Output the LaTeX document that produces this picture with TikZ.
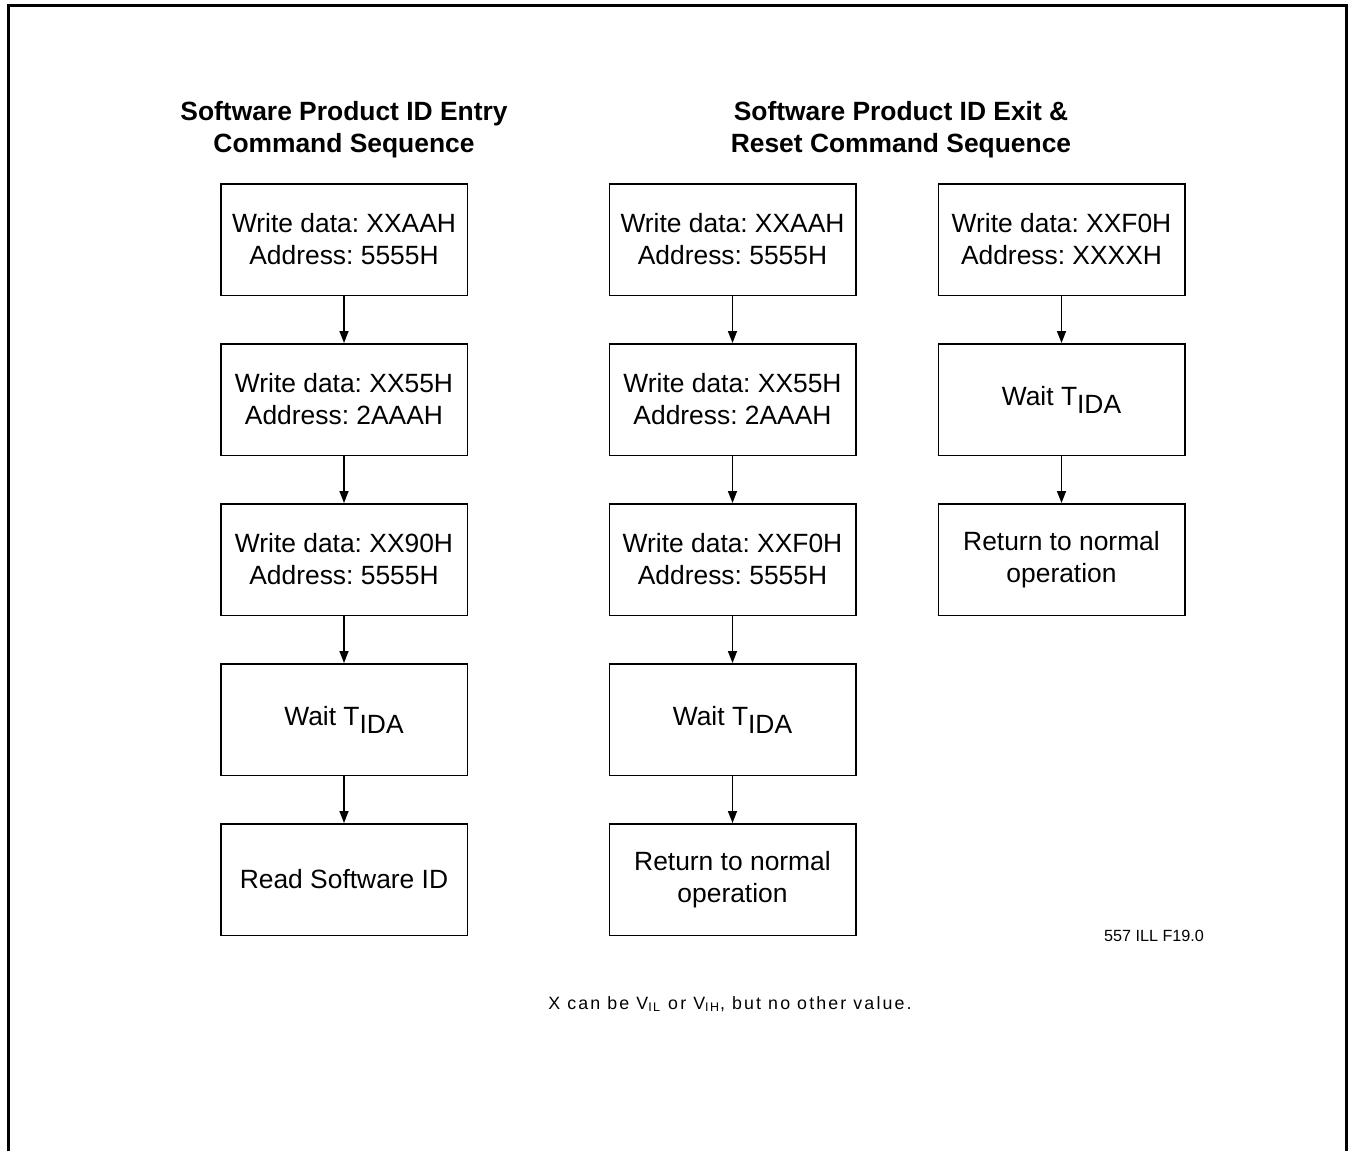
\documentclass[tikz,border=0pt]{standalone}
\usepackage{fontspec}
\setmainfont{Liberation Sans}
\usetikzlibrary{arrows.meta, positioning, calc}

\newcommand{\tida}{T\raisebox{-4pt}{IDA}}
\frenchspacing

\begin{document}
\begin{tikzpicture}[x=0.5pt, y=-0.5pt, >={Triangle[length=6pt, width=4.5pt]}, node distance=23.5pt,
  box/.style={draw, line width=0.75pt, align=center, minimum width=123.25pt, minimum height=55.75pt, inner sep=0pt, font=\fontsize{13.2}{16}\selectfont},
  heading/.style={align=center, inner sep=0pt, font=\fontsize{13.2}{16}\selectfont\bfseries},
  flow/.style={->, line width=0.75pt}]
\useasboundingbox (0,0) rectangle (1353,1151);
\draw[line width=1.5pt] (8.5,1151) -- (8.5,5) -- (1346,5) -- (1346,1151);

% entry sequence
\node[box] (a1) at (344,239.5) {Write data: XXAAH\\ Address: 5555H};
\node[box, below=of a1] (a2) {Write data: XX55H\\ Address: 2AAAH};
\node[box, below=of a2] (a3) {Write data: XX90H\\ Address: 5555H};
\node[box, below=of a3] (a4) {Wait \tida};
\node[box, below=of a4] (a5) {Read Software ID};

% exit & reset sequence
\node[box] (b1) at (732.5,239.5) {Write data: XXAAH\\ Address: 5555H};
\node[box, below=of b1] (b2) {Write data: XX55H\\ Address: 2AAAH};
\node[box, below=of b2] (b3) {Write data: XXF0H\\ Address: 5555H};
\node[box, below=of b3] (b4) {Wait \tida};
\node[box, below=of b4] (b5) {Return to normal\\ operation};

\node[box] (c1) at (1061.5,239.5) {Write data: XXF0H\\ Address: XXXXH};
\node[box, below=of c1] (c2) {Wait \tida};
\node[box, below=of c2] (c3) {Return to normal\\ operation};

\foreach \u/\v in {a1/a2, a2/a3, a3/a4, a4/a5, b1/b2, b2/b3, b3/b4, b4/b5, c1/c2, c2/c3}
  \draw[flow] (\u) -- (\v);

% headings
\coordinate (mid) at ($(b1.north)!.5!(c1.north)$);
\node[heading, above=12.5pt of a1] (ta) {Software Product ID Entry\\ Command Sequence};
\node[heading, above=12.5pt of mid, xshift=2pt] (tb) {Software Product ID Exit \&\\ Reset Command Sequence};

\node[font=\fontsize{8.1}{10}\selectfont] (fig) at (1154,936) {557 ILL F19.0};
\node[font=\fontsize{8.9}{10}\selectfont\addfontfeatures{LetterSpace=12}] (note) at (730,1004) {X can be V\textsubscript{IL} or V\textsubscript{IH}, but no other value.};
\end{tikzpicture}
\end{document}
